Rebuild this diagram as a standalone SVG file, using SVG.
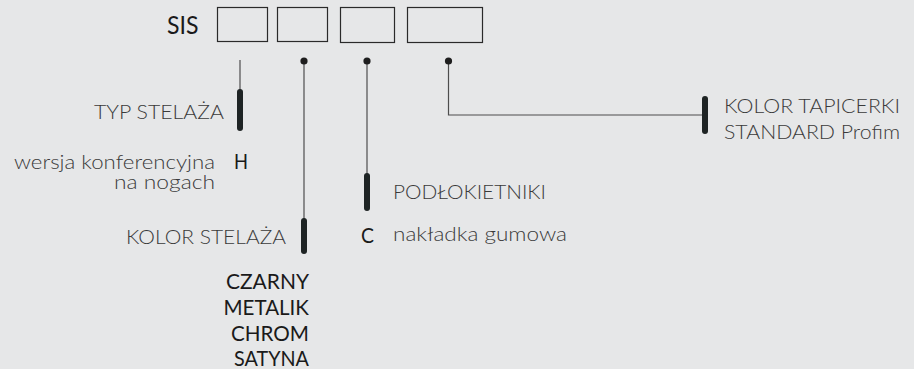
<svg xmlns="http://www.w3.org/2000/svg" width="914" height="369" viewBox="0 0 914 369">
<style>
.bg{fill:#e6e7e8}
.box{fill:none;stroke:#2a2a2a;stroke-width:1.2}
.thin{fill:none;stroke:#4d4d4d;stroke-width:1.2}
.bar{stroke:#1e2424;stroke-width:6;stroke-linecap:round}
.dot{fill:#1e1e1e}
.lt{font-family:Lato,"Open Sans","Liberation Sans",sans-serif;font-weight:300;font-size:20.5px;fill:#3a3a3a}
.bd{font-family:Lato,"Open Sans","Liberation Sans",sans-serif;font-weight:400;font-size:20.5px;fill:#1a1a1a}
.sis{font-family:Lato,"Open Sans","Liberation Sans",sans-serif;font-weight:400;font-size:25px;fill:#1a1a1a}
</style>
<rect class="bg" x="0" y="0" width="914" height="369"/>
<g id="code">
<text class="sis" x="167" y="33.5" textLength="31.5" lengthAdjust="spacingAndGlyphs">SIS</text>
<rect class="box" x="217.5" y="7.5" width="50" height="34"/>
<rect class="box" x="277.5" y="7.5" width="50" height="34"/>
<rect class="box" x="340.5" y="7.5" width="54" height="35"/>
<rect class="box" x="407.5" y="7.5" width="75" height="35"/>
</g>
<g id="connectors">
<line class="thin" x1="240" y1="60" x2="240" y2="95"/>
<line class="thin" x1="304" y1="61" x2="304" y2="222"/>
<line class="thin" x1="367" y1="61" x2="367" y2="178"/>
<polyline class="thin" points="448.5,61 448.5,115 704,115"/>
<circle class="dot" cx="304" cy="61" r="3.6"/>
<circle class="dot" cx="367" cy="61" r="3.6"/>
<circle class="dot" cx="448.5" cy="61" r="3.6"/>
</g>
<g id="typ-stelaza">
<line class="bar" x1="240" y1="92" x2="240" y2="128"/>
<text class="lt" x="224" y="118.5" text-anchor="end" textLength="130" lengthAdjust="spacingAndGlyphs">TYP STELAŻA</text>
<text class="lt" x="215" y="169" text-anchor="end" textLength="201" lengthAdjust="spacingAndGlyphs">wersja konferencyjna</text>
<text class="lt" x="215" y="189" text-anchor="end" textLength="101" lengthAdjust="spacingAndGlyphs">na nogach</text>
<text class="bd" x="234" y="169" textLength="14" lengthAdjust="spacingAndGlyphs">H</text>
</g>
<g id="kolor-stelaza">
<line class="bar" x1="304" y1="221" x2="304" y2="251"/>
<text class="lt" x="286" y="244" text-anchor="end" textLength="160" lengthAdjust="spacingAndGlyphs">KOLOR STELAŻA</text>
<text class="bd" x="309" y="288.5" text-anchor="end" textLength="83" lengthAdjust="spacingAndGlyphs">CZARNY</text>
<text class="bd" x="309" y="314.5" text-anchor="end" textLength="85.5" lengthAdjust="spacingAndGlyphs">METALIK</text>
<text class="bd" x="309" y="340.5" text-anchor="end" textLength="78" lengthAdjust="spacingAndGlyphs">CHROM</text>
<text class="bd" x="309" y="365.5" text-anchor="end" textLength="75" lengthAdjust="spacingAndGlyphs">SATYNA</text>
</g>
<g id="podlokietniki">
<line class="bar" x1="367" y1="176" x2="367" y2="208"/>
<text class="lt" x="393" y="199" textLength="153" lengthAdjust="spacingAndGlyphs">PODŁOKIETNIKI</text>
<text class="bd" x="361" y="243" textLength="13" lengthAdjust="spacingAndGlyphs">C</text>
<text class="lt" x="393" y="241" textLength="174" lengthAdjust="spacingAndGlyphs">nakładka gumowa</text>
</g>
<g id="kolor-tapicerki">
<line class="bar" x1="705" y1="99" x2="705" y2="131"/>
<text class="lt" x="724" y="113" textLength="176" lengthAdjust="spacingAndGlyphs">KOLOR TAPICERKI</text>
<text class="lt" x="724" y="139" textLength="176" lengthAdjust="spacingAndGlyphs">STANDARD Profim</text>
</g>
</svg>
